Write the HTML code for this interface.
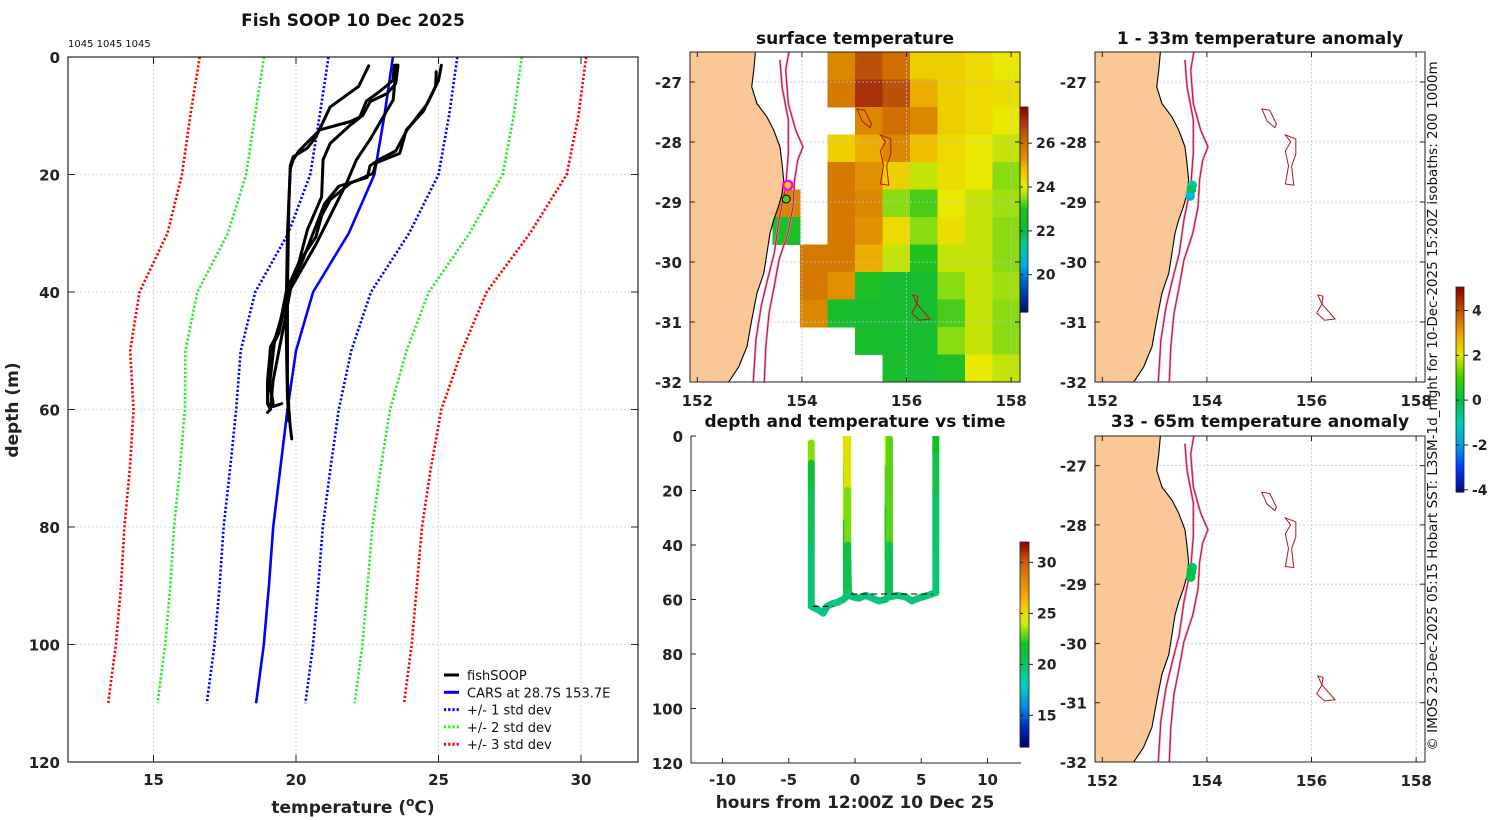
<!DOCTYPE html>
<html><head><meta charset="utf-8"><title>Fish SOOP 10 Dec 2025</title>
<style>
html,body{margin:0;padding:0;background:#fff;}
svg{display:block;font-family:"DejaVu Sans","Liberation Sans",sans-serif;}
.tk{font-size:15px;font-weight:bold;fill:#222;}
.tt{font-size:17px;font-weight:bold;fill:#111;}
</style></head>
<body>
<svg id="fig" width="1500" height="820" viewBox="0 0 1500 820" xmlns="http://www.w3.org/2000/svg">
<defs>
<clipPath id="clipP"><rect x="68" y="57" width="570" height="705"/></clipPath>
<clipPath id="clipM1"><rect x="690" y="52" width="330" height="330"/></clipPath>
<clipPath id="clipM2"><rect x="1095" y="52" width="330" height="330"/></clipPath>
<clipPath id="clipM3"><rect x="1095" y="436" width="330" height="326"/></clipPath>
<clipPath id="clipT"><rect x="691" y="436" width="330" height="326"/></clipPath>
</defs>
</svg>
<script>
// ---------- data ----------
const depthLevels=[0,10,20,30,40,50,60,70,80,90,100,110];
const carsMean=[23.4,23.1,22.75,21.85,20.6,20.0,19.7,19.45,19.2,19.05,18.87,18.6];
const carsStd=[2.26,2.27,2.25,2.12,2.03,1.94,1.8,1.76,1.74,1.73,1.73,1.73];
const fishProfile1=[[22.55,1.5],[22.2,5],[21.2,8.5],[20.7,13.6],[20.4,15.5],[19.9,17],[19.8,18.5],[19.75,25],[19.7,40],[19.7,55],[19.75,60],[19.8,63],[19.85,65]];
const fishProfile2=[[25.1,1.4],[25.0,4],[24.6,8],[23.9,12.4],[23.5,16],[22.9,17.5],[22.6,18.5],[22.5,20.5],[21.5,22],[21.0,25],[20.6,30],[20.2,35],[19.7,40],[19.4,47],[19.1,50],[19.0,55],[19.0,59],[19.2,59.5],[19.5,59]];
const fishProfile3=[[24.92,2.5],[24.9,5],[24.46,9.3],[23.87,12.4],[23.64,16.4],[22.82,18],[22.7,19.8],[21.9,21.5],[21.2,24.3],[20.9,27],[20.7,30.6],[20.1,35],[19.67,39.7],[19.37,47],[19.1,49.4],[19.0,59],[19.1,60]];
const fishProfile4=[[23.58,1.4],[23.5,4.5],[23.2,6.2],[22.6,7.6],[22.35,9.9],[21.9,11.6],[21.2,14.7],[20.95,17.5],[20.9,23.8],[20.4,29.4],[20.1,35],[19.8,39.7],[19.6,45],[19.4,50],[19.2,55],[19.1,60],[19.0,60.5]];
const fishProfile5=[[23.52,1.36],[23.41,7.3],[23.06,10.2],[22.59,14.1],[22.12,17.5],[21.77,21.5],[21.42,24.9],[21.07,28.3],[20.72,31.7],[20.25,35.7],[19.78,39.7],[19.49,44.2],[19.25,48.2],[19.08,55.5],[19.2,59]];
const fishProfile6=[[23.45,1.4],[23.4,4],[22.9,6],[22.47,7.5],[22.24,10.2],[21.9,11],[20.84,12.4],[20.49,14.1],[20.1,16],[19.9,17.5],[19.8,19],[19.7,30],[19.65,45],[19.7,58],[19.75,62]];
const profileXTicks=[15,20,25,30];
const profileYTicks=[0,20,40,60,80,100,120];

const trackHours=[-3.3,-3.3,-3.3,-3.3,-3.3,-3.1,-2.7,-2.4,-2.1,-1.7,-1.3,-0.9,-0.65,-0.65,-0.65,-0.65,-0.65,-0.55,-0.55,-0.55,-0.5,-0.2,0.3,0.8,1.3,1.8,2.3,2.5,2.5,2.5,2.5,2.5,2.6,2.6,2.6,3.2,3.8,4.3,4.8,5.3,5.8,6.1,6.1,6.1,6.1,6.1];
const trackDepth=[2.5,10,20,40,62.5,63,64,65,62.5,61.5,61,60,59,45,30,10,0,0.5,20,40,57.5,59,59.5,58.5,59.5,60.5,60,59,45,25,10,0.5,1,40,59,58.5,59,60.5,59.5,58.8,58,57.5,40,20,5,0.5];
const trackTemp=[24.2,22.3,20.5,19.8,19.5,19.5,19.3,19.3,19.4,19.4,19.4,19.4,19.5,20.3,22.5,24.5,25.2,25,24.2,22,19.6,19.5,19.5,19.5,19.5,19.4,19.4,19.5,21.5,22.3,23.2,24.8,24.5,21,19.5,19.5,19.5,19.4,19.5,19.5,19.5,19.5,19.6,19.9,21.5,22.3];
const timeXTicks=[-10,-5,0,5,10];
const timeYTicks=[0,20,40,60,80,100,120];

const sstGrid=[
[null,null,null,null,null,25.5,26.5,26.0,24.5,24.5,24.3,24.0],
[null,null,null,null,null,25.8,27.0,26.5,25.0,24.5,24.3,24.2],
[null,null,null,null,null,null,25.5,26.0,25.5,24.5,24.3,24.0],
[null,null,null,null,null,24.5,25.0,25.5,24.8,24.3,24.0,23.8],
[null,null,null,null,null,25.8,25.3,24.5,23.8,24.2,24.0,23.5],
[null,null,null,25.5,null,25.8,25.5,23.5,23.2,24.0,23.8,23.6],
[null,null,null,22.8,null,25.8,25.3,24.3,23.5,24.2,23.8,23.5],
[null,null,null,null,25.8,25.8,25.0,23.8,23.0,23.8,23.8,23.5],
[null,null,null,null,25.8,25.3,22.8,22.5,22.5,23.5,23.8,23.6],
[null,null,null,null,25.5,22.6,22.5,22.5,22.5,23.2,23.8,23.5],
[null,null,null,null,null,null,22.6,22.5,22.5,23.5,23.8,23.5],
[null,null,null,null,null,null,null,22.6,22.5,22.8,24.0,23.8]];
const coastLine=[[153.11,-26.5],[153.08,-26.8],[153.04,-27.08],[153.14,-27.36],[153.33,-27.58],[153.46,-27.8],[153.58,-28.08],[153.62,-28.36],[153.65,-28.63],[153.62,-28.86],[153.55,-29.08],[153.46,-29.3],[153.39,-29.52],[153.33,-29.86],[153.27,-30.19],[153.14,-30.52],[153.04,-30.97],[152.95,-31.41],[152.79,-31.75],[152.60,-32.0]];
const isobath1000=[[153.75,-26.5],[153.69,-26.8],[153.74,-27.36],[153.88,-27.8],[154.02,-28.08],[153.92,-28.3],[153.86,-28.63],[153.83,-29.08],[153.73,-29.52],[153.56,-29.97],[153.47,-30.41],[153.37,-30.86],[153.31,-31.41],[153.28,-32]];
const isobath200=[[153.58,-26.63],[153.62,-27.08],[153.74,-27.63],[153.74,-28.19],[153.69,-28.74],[153.56,-29.3],[153.47,-29.86],[153.34,-30.3],[153.22,-30.74],[153.12,-31.3],[153.07,-32]];
const seamount1=[[155.05,-27.45],[155.2,-27.47],[155.33,-27.7],[155.3,-27.76],[155.15,-27.65]];
const seamount2=[[155.5,-27.88],[155.7,-27.95],[155.7,-28.2],[155.62,-28.4],[155.66,-28.72],[155.5,-28.7],[155.56,-28.4],[155.5,-28.15],[155.6,-28.0]];
const seamount3=[[156.12,-30.55],[156.22,-30.57],[156.2,-30.7],[156.45,-30.95],[156.25,-30.97],[156.1,-30.85],[156.2,-30.7]];
const lonTicks=[152,154,156,158];
const latTicks=[-27,-28,-29,-30,-31,-32];
const anomLon1=[153.72,153.70,153.68];
const anomLat1=[-28.72,-28.8,-28.9];
const anomVal1=[-0.8,-0.2,-1.5];
const anomLon2=[153.72,153.70,153.69];
const anomLat2=[-28.72,-28.8,-28.88];
const anomVal2=[-0.3,0.0,-0.1];
const sstTicks=[26,24,22,20];
const timeCbTicks=[30,25,20,15];
const anomTicks=[4,2,0,-2,-4];

// ---------- helpers ----------
const NS='http://www.w3.org/2000/svg';
const svg=document.getElementById('fig');
function mk(tag,attrs,parent){const e=document.createElementNS(NS,tag);for(const k in attrs)e.setAttribute(k,attrs[k]);(parent||svg).appendChild(e);return e;}
function txt(x,y,s,cls,anchor,parent){const e=mk('text',{x:x,y:y,'class':cls||'tk','text-anchor':anchor||'middle'},parent);e.textContent=s;return e;}
function hex2rgb(h){return [parseInt(h.substr(1,2),16),parseInt(h.substr(3,2),16),parseInt(h.substr(5,2),16)];}
function cmap(stops,v){if(v<=stops[0][0])return stops[0][1];if(v>=stops[stops.length-1][0])return stops[stops.length-1][1];
 for(let i=0;i<stops.length-1;i++){const a=stops[i],b=stops[i+1];if(v>=a[0]&&v<=b[0]){const f=(v-a[0])/(b[0]-a[0]);const ca=hex2rgb(a[1]),cb=hex2rgb(b[1]);
 return 'rgb('+ca.map((c,j)=>Math.round(c+(cb[j]-c)*f)).join(',')+')';}}return stops[0][1];}
const sstStops=[[18.3,'#00107a'],[19.5,'#0050d0'],[20.5,'#00b0e0'],[21.3,'#00c8a0'],[22,'#10b840'],[23,'#20c020'],[23.6,'#a0e010'],[24,'#e8e800'],[24.8,'#f0c000'],[25.3,'#e09000'],[26,'#d07000'],[26.8,'#b04010'],[27.65,'#900000']];
const timeStops=[[12,'#00006a'],[14,'#0030c0'],[16,'#0090e0'],[18,'#00d0c0'],[20,'#10c060'],[22,'#10c020'],[24,'#d0f000'],[25.5,'#f0d000'],[27,'#f0a000'],[30,'#d06010'],[32,'#900000']];
const anomStops=[[-4.2,'#000080'],[-3,'#0040ff'],[-2,'#00a0e0'],[-1,'#00d0b0'],[0,'#00c040'],[1,'#40d000'],[2,'#e0e800'],[3,'#f0a000'],[4,'#c05000'],[5,'#900000']];

// ---------- profile panel ----------
const PX0=68,PX1=638,PY0=57,PY1=762;
function px(t){return PX0+(t-12)*(PX1-PX0)/20;}
function py(d){return PY0+d*(PY1-PY0)/120;}
const gP=mk('g',{});


profileXTicks.forEach(t=>{const l=mk('line',{x1:px(t),x2:px(t),y1:PY0,y2:PY1,stroke:'#c4cce4','stroke-width':0.8,'stroke-dasharray':'2,2'},gP);
 
 
 const k=txt(px(t),785,String(t),'tk','middle',gP);
 
 
 mk('line',{x1:px(t),x2:px(t),y1:PY1,y2:PY1-7,stroke:'#222'},gP);mk('line',{x1:px(t),x2:px(t),y1:PY0,y2:PY0+7,stroke:'#222'},gP);});
profileYTicks.forEach(d=>{if(d>0&&d<120){const l=mk('line',{x1:PX0,x2:PX1,y1:py(d),y2:py(d),stroke:'#c4cce4','stroke-width':0.8,'stroke-dasharray':'2,2'},gP);
 
 }
 const k=txt(60,py(d)+6,String(d),'tk','end',gP);
 
 
 mk('line',{x1:PX0,x2:PX0+7,y1:py(d),y2:py(d),stroke:'#222'},gP);mk('line',{x1:PX1,x2:PX1-7,y1:py(d),y2:py(d),stroke:'#222'},gP);});
const gPC=mk('g',{'clip-path':'url(#clipP)'},gP);
const stdColors=['#0000ff','#22ee22','#ff0000'];
[1,2,3].forEach((k,i)=>{[-1,1].forEach(s=>{const pts=depthLevels.map((d,j)=>px(carsMean[j]+s*k*carsStd[j])+','+py(d)).join(' ');
 const l=mk('polyline',{points:pts,fill:'none',stroke:stdColors[i],'stroke-width':2.6,'stroke-dasharray':'2.2,2'},gPC);
 
 });});
const carsLine=mk('polyline',{points:depthLevels.map((d,j)=>px(carsMean[j])+','+py(d)).join(' '),fill:'none',stroke:'#0000ff','stroke-width':2.6},gPC);


[fishProfile1,fishProfile2,fishProfile3,fishProfile4,fishProfile5,fishProfile6].forEach((p,i)=>{
 const l=mk('polyline',{points:p.map(q=>px(q[0])+','+py(q[1])).join(' '),fill:'none',stroke:'#000','stroke-width':3,'stroke-linejoin':'round','stroke-linecap':'round'},gPC);
 
 });
const boxP=mk('rect',{x:PX0,y:PY0,width:PX1-PX0,height:PY1-PY0,fill:'none',stroke:'#222','stroke-width':1.2},gP);


const tP=txt(353,26,'Fish SOOP 10 Dec 2025','tt','middle',gP);


const idt=mk('text',{x:68,y:47,'font-size':'10px',fill:'#111'},gP);idt.textContent='1045 1045 1045';


const xl=mk('text',{x:353,y:813,'class':'tk','text-anchor':'middle',style:'font-size:17px'},gP);
xl.innerHTML='temperature (<tspan dy="-7" font-size="12">o</tspan><tspan dy="7">C)</tspan>';


const yl=mk('text',{x:0,y:0,'class':'tk',transform:'translate(18,410) rotate(-90)','text-anchor':'middle',style:'font-size:17px'},gP);yl.textContent='depth (m)';


const legItems=[['fishSOOP','#000',''],['CARS at 28.7S 153.7E','#0000ff',''],['+/- 1 std dev','#0000ff','2.2,2'],['+/- 2 std dev','#22ee22','2.2,2'],['+/- 3 std dev','#ff0000','2.2,2']];
const gL=mk('g',{},gP);


legItems.forEach((it,i)=>{const y=675+i*17.3;const g=mk('g',{},gL);
 
 
 mk('line',{x1:444,x2:459,y1:y,y2:y,stroke:it[1],'stroke-width':3,'stroke-dasharray':it[2]||'none'},g);
 const t=mk('text',{x:467,y:y+5,'font-size':'13px',fill:'#111'},g);t.textContent=it[0];});

// ---------- map helpers ----------
function makeMap(name,x0,y0,w,h,clip){
 const lonA=151.86,lonB=158.17,latA=-26.5,latB=-32.0;
 const mx=lon=>x0+(lon-lonA)/(lonB-lonA)*w;
 const my=lat=>y0+(lat-latA)/(latB-latA)*h;
 const g=mk('g',{});
 
 
 const gc=mk('g',{'clip-path':'url(#'+clip+')'},g);
 return {g,gc,mx,my,x0,y0,w,h};
}
function drawMapBase(m,withGrid){
 if(withGrid){lonTicks.forEach(l=>{const e=mk('line',{x1:m.mx(l),x2:m.mx(l),y1:m.y0,y2:m.y0+m.h,stroke:'#b8c2e4','stroke-width':0.8,'stroke-dasharray':'2,2'},m.gc);
  
  });
 latTicks.forEach(l=>{const e=mk('line',{x1:m.x0,x2:m.x0+m.w,y1:m.my(l),y2:m.my(l),stroke:'#b8c2e4','stroke-width':0.8,'stroke-dasharray':'2,2'},m.gc);
  
  });}
 const land=[[151.0,-26.5]].concat(coastLine).concat([[151.0,-32.1]]);
 const lp=mk('polygon',{points:land.map(p=>m.mx(p[0])+','+m.my(p[1])).join(' '),fill:'#f9c896',stroke:'none'},m.gc);
 
 
 const cl=mk('polyline',{points:coastLine.map(p=>m.mx(p[0])+','+m.my(p[1])).join(' '),fill:'none',stroke:'#000','stroke-width':1.1},m.gc);
 
 
 [[isobath200,'isobath-200m'],[isobath1000,'isobath-1000m']].forEach(b=>{
  mk('polyline',{points:b[0].map(p=>m.mx(p[0])+','+m.my(p[1])).join(' '),fill:'none',stroke:'#f080c0','stroke-width':2.2},m.gc);
  const e=mk('polyline',{points:b[0].map(p=>m.mx(p[0])+','+m.my(p[1])).join(' '),fill:'none',stroke:'#b01818','stroke-width':0.9},m.gc);
  
  });
 [seamount1,seamount2,seamount3].forEach((s,i)=>{const e=mk('polygon',{points:s.map(p=>m.mx(p[0])+','+m.my(p[1])).join(' '),fill:'none',stroke:'#b01818','stroke-width':1},m.gc);
  
  });
 const bx=mk('rect',{x:m.x0,y:m.y0,width:m.w,height:m.h,fill:'none',stroke:'#222','stroke-width':1},m.g);
 
 
 lonTicks.forEach(l=>{const X=m.mx(l);mk('line',{x1:X,x2:X,y1:m.y0+m.h,y2:m.y0+m.h-5,stroke:'#222'},m.g);mk('line',{x1:X,x2:X,y1:m.y0,y2:m.y0+5,stroke:'#222'},m.g);
  const t=txt(X,m.y0+m.h+24,String(l),'tk','middle',m.g);
  
  });
 latTicks.forEach(l=>{const Y=m.my(l);mk('line',{x1:m.x0,x2:m.x0+5,y1:Y,y2:Y,stroke:'#222'},m.g);mk('line',{x1:m.x0+m.w,x2:m.x0+m.w-5,y1:Y,y2:Y,stroke:'#222'},m.g);
  const t=txt(m.x0-8,Y+6,String(l),'tk','end',m.g);
  
  });
}
function colorbar(name,x,y0,w,h,vmin,vmax,stops,ticks){
 const g=mk('g',{});
 
 
 const N=80;for(let i=0;i<N;i++){const v=vmax-(i+0.5)*(vmax-vmin)/N;mk('rect',{x:x,y:y0+i*h/N,width:w,height:h/N+0.6,fill:cmap(stops,v)},g);}
 mk('rect',{x:x,y:y0,width:w,height:h,fill:'none',stroke:'#222','stroke-width':0.8},g);
 ticks.forEach(t=>{const Y=y0+(vmax-t)/(vmax-vmin)*h;mk('line',{x1:x+w,x2:x+w+4,y1:Y,y2:Y,stroke:'#222'},g);mk('line',{x1:x,x2:x+3,y1:Y,y2:Y,stroke:'#222'},g);
  const k=txt(x+w+8,Y+5,String(t),'tk','start',g);k.setAttribute('style','font-size:14px');
  
  });
}

// ---------- surface temperature map ----------
const m1=makeMap('surface-temperature-map',690,52,330,330,'clipM1');
const nR=sstGrid.length,nC=sstGrid[0].length;
sstGrid.forEach((row,r)=>row.forEach((v,c)=>{if(v===null)return;
 const cell=mk('rect',{x:690+c*330/nC,y:52+r*330/nR,width:330/nC+0.5,height:330/nR+0.5,fill:cmap(sstStops,v)},m1.gc);
 
 }));
drawMapBase(m1,true);
const shipRing=mk('circle',{cx:m1.mx(153.73),cy:m1.my(-28.72),r:4.5,fill:'#f0e000',stroke:'#ff00ff','stroke-width':2.5},m1.gc);


const shipDot=mk('circle',{cx:m1.mx(153.7),cy:m1.my(-28.95),r:4,fill:'#60c020',stroke:'#000','stroke-width':1},m1.gc);


const t1=txt(855,44,'surface temperature','tt','middle');


colorbar('sst-colorbar',1020,107,8,205,18.3,27.65,sstStops,sstTicks);

// ---------- anomaly maps ----------
const m2=makeMap('anomaly-map-1-33m',1095,52,330,330,'clipM2');
drawMapBase(m2,true);
anomVal1.forEach((v,i)=>{const c=mk('circle',{cx:m2.mx(anomLon1[i]),cy:m2.my(anomLat1[i]),r:4.8,fill:cmap(anomStops,v)},m2.gc);
 
 });
const t2=txt(1260,44,'1 - 33m temperature anomaly','tt','middle');


const m3=makeMap('anomaly-map-33-65m',1095,436,330,326,'clipM3');
drawMapBase(m3,true);
anomVal2.forEach((v,i)=>{const c=mk('circle',{cx:m3.mx(anomLon2[i]),cy:m3.my(anomLat2[i]),r:4.8,fill:cmap(anomStops,v)},m3.gc);
 
 });
const t3=txt(1260,427,'33 - 65m temperature anomaly','tt','middle');


colorbar('anomaly-colorbar',1456,287,8,205,-4.1,5.05,anomStops,anomTicks);

// ---------- depth/temperature vs time ----------
const TX0=691,TX1=1021,TY0=436,TY1=763;
function tx(h){return 855+h*13.25;}
function ty(d){return TY0+d*(TY1-TY0)/120;}
const gT=mk('g',{});


const gTC=mk('g',{'clip-path':'url(#clipT)'},gT);
for(let i=0;i<trackHours.length-1;i++){
 const s=mk('line',{x1:tx(trackHours[i]),y1:ty(trackDepth[i]),x2:tx(trackHours[i+1]),y2:ty(trackDepth[i+1]),stroke:cmap(timeStops,(trackTemp[i]+trackTemp[i+1])/2),'stroke-width':7,'stroke-linecap':'round'},gTC);
 
 }
const bl1=mk('line',{x1:tx(-3.2),x2:tx(-1.6),y1:ty(62.5),y2:ty(62.5),stroke:'#000','stroke-width':1,'stroke-dasharray':'6,4'},gTC);


const bl2=mk('line',{x1:tx(-0.3),x2:tx(5.9),y1:ty(58),y2:ty(58),stroke:'#000','stroke-width':1,'stroke-dasharray':'6,4'},gTC);


mk('line',{x1:TX0,x2:TX0,y1:TY0,y2:TY1,stroke:'#222'},gT);mk('line',{x1:TX0,x2:TX1,y1:TY1,y2:TY1,stroke:'#222'},gT);
timeXTicks.forEach(h=>{mk('line',{x1:tx(h),x2:tx(h),y1:TY1,y2:TY1-5,stroke:'#222'},gT);
 const k=txt(tx(h),785,String(h),'tk','middle',gT);
 
 });
timeYTicks.forEach(d=>{mk('line',{x1:TX0,x2:TX0+5,y1:ty(d),y2:ty(d),stroke:'#222'},gT);
 const k=txt(683,ty(d)+6,String(d),'tk','end',gT);
 
 });
const t4=txt(855,427,'depth and temperature vs time','tt','middle');


const t5=mk('text',{x:855,y:808,'class':'tk','text-anchor':'middle',style:'font-size:17px'},gT);t5.textContent='hours from 12:00Z 10 Dec 25';


colorbar('time-temperature-colorbar',1020,542,9,205,11.9,32,timeStops,timeCbTicks);

// ---------- credit text ----------
const cr=mk('text',{x:0,y:0,transform:'translate(1437,406) rotate(-90)','text-anchor':'middle','font-size':'13.5px',fill:'#111'});
cr.textContent='\u00a9 IMOS 23-Dec-2025 05:15 Hobart SST: L3SM-1d_night for 10-Dec-2025 15:20Z isobaths: 200  1000m';


</script>
</body></html>
